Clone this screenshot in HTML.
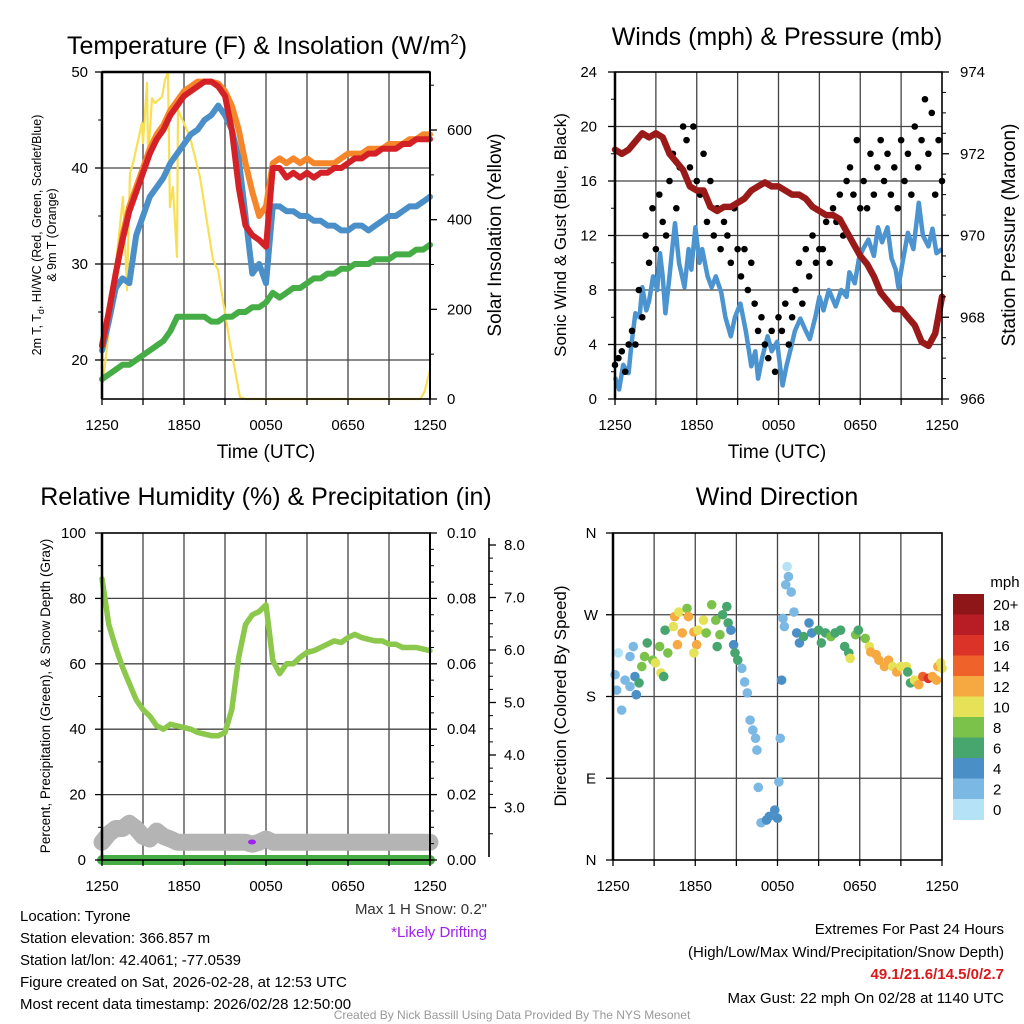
<!DOCTYPE html>
<html><head><meta charset="utf-8">
<style>
html,body{margin:0;padding:0;background:#fff;}
svg{display:block;font-family:"Liberation Sans",sans-serif;}
</style></head>
<body>
<svg id="fig" width="1024" height="1024" viewBox="0 0 1024 1024" xmlns="http://www.w3.org/2000/svg">
<rect width="1024" height="1024" fill="#fff"/>
<text x="267" y="54" font-size="25" text-anchor="middle">Temperature (F) &amp; Insolation (W/m<tspan font-size="15" dy="-10">2</tspan><tspan dy="10">)</tspan></text>
<text x="777" y="45" font-size="25" text-anchor="middle">Winds (mph) &amp; Pressure (mb)</text>
<text x="266" y="505" font-size="25" text-anchor="middle">Relative Humidity (%) &amp; Precipitation (in)</text>
<text x="777" y="505" font-size="25" text-anchor="middle">Wind Direction</text>

<text transform="translate(41,235) rotate(-90)" font-size="12.5" text-anchor="middle">2m T, T<tspan font-size="9" dy="3">d</tspan><tspan dy="-3">, HI/WC (Red, Green, Scarlet/Blue)</tspan></text>
<text transform="translate(56,235) rotate(-90)" font-size="12.5" text-anchor="middle">&amp; 9m T (Orange)</text>
<text transform="translate(501,235) rotate(-90)" font-size="19" text-anchor="middle">Solar Insolation (Yellow)</text>
<text transform="translate(566,235) rotate(-90)" font-size="17" text-anchor="middle">Sonic Wind &amp; Gust (Blue, Black)</text>
<text transform="translate(1015,235) rotate(-90)" font-size="19" text-anchor="middle">Station Pressure (Maroon)</text>
<text transform="translate(50,696) rotate(-90)" font-size="13.5" text-anchor="middle">Percent, Precipitation (Green), &amp; Snow Depth (Gray)</text>
<text transform="translate(566,696) rotate(-90)" font-size="17" text-anchor="middle">Direction (Colored By Speed)</text>

<text x="266" y="458" font-size="19" text-anchor="middle">Time (UTC)</text>
<text x="777" y="458" font-size="19" text-anchor="middle">Time (UTC)</text>

<g font-size="15">
<text x="20" y="921">Location: Tyrone</text>
<text x="20" y="943">Station elevation: 366.857 m</text>
<text x="20" y="965">Station lat/lon: 42.4061; -77.0539</text>
<text x="20" y="987">Figure created on Sat, 2026-02-28, at 12:53 UTC</text>
<text x="20" y="1009">Most recent data timestamp: 2026/02/28 12:50:00</text>
</g>
<text x="487" y="914" font-size="15" text-anchor="end" fill="#333">Max 1 H Snow: 0.2"</text>
<text x="487" y="937" font-size="15" text-anchor="end" fill="#a020f0">*Likely Drifting</text>
<g font-size="15" text-anchor="end">
<text x="1004" y="934">Extremes For Past 24 Hours</text>
<text x="1004" y="957">(High/Low/Max Wind/Precipitation/Snow Depth)</text>
<text x="1004" y="979" fill="#d7191c" font-weight="bold">49.1/21.6/14.5/0/2.7</text>
<text x="1004" y="1003">Max Gust: 22 mph On 02/28 at 1140 UTC</text>
</g>
<text x="512" y="1019" font-size="12" text-anchor="middle" fill="#999">Created By Nick Bassill Using Data Provided By The NYS Mesonet</text>
<g id="layer"></g>
</svg>
<script>
// ---------- data ----------
const xTickLabels = ["1250","1850","0050","0650","1250"];
const halfHours = [0,0.5,1,1.5,2,2.5,3,3.5,4,4.5,5,5.5,6,6.5,7,7.5,8,8.5,9,9.5,10,10.5,11,11.5,12,12.5,13,13.5,14,14.5,15,15.5,16,16.5,17,17.5,18,18.5,19,19.5,20,20.5,21,21.5,22,22.5,23,23.5,24];
const tempRed = [21.5,25,29,32.5,35.5,37.5,39.5,41.5,43,44,45.5,46.5,47.5,48,48.5,49,49,48.5,47.5,44,38,34,33,32.5,31.8,40,40,39,39.5,39,39.5,39,39.5,39.5,40,40,40.5,41,41,41.5,41.5,42,42,42,42.5,42.5,43,43,43];
const tempOrange = [21.5,25,29,33,36,38,40,42,43.5,44.5,46,47,48,48.5,49,49,49,48.8,48,46.5,44,40.5,37.5,35,36,40.5,41,40.5,41,40.5,41,40.5,40.5,40.5,40.5,41,41.5,41.5,41.5,42,42,42,42.5,42.5,42.5,43,43,43.5,43.5];
const tempBlue = [21,24,27.5,28.5,28,33,35,37,38,39,40.5,41.5,42.5,43.5,44,45,45.5,46.5,45.5,44,41,35,29,30,28,36,36,35.5,35.5,35,35,34.5,34.5,34,34,33.5,33.5,34,34,33.5,34,34.5,35,35,35.5,36,36,36.5,37];
const tempGreen = [18,18.5,19,19.5,19.5,20,20.5,21,21.5,22,23,24.5,24.5,24.5,24.5,24.5,24,24,24.5,24.5,25,25,25.5,25.5,26,27,26.5,27,27.5,27.5,28,28.5,28.5,29,29,29.5,29.5,30,30,30,30.5,30.5,30.5,31,31,31,31.5,31.5,32];
const solarTime = [0.07,0.8,1.54,1.83,2.05,2.27,2.93,3.0,3.29,3.37,3.66,3.88,4.39,4.61,4.83,4.97,5.19,5.49,5.56,6.44,7.17,8.12,8.49,9.36,10.1,10.5,23.3,23.6,24];
const solarVal = [36,236,451,243,504,526,616,571,705,533,671,660,674,712,729,428,473,317,645,584,495,310,288,125,4,0,0,16,65];
const windTime = [0,0.3,0.6,1,1.2,1.5,1.8,2,2.3,2.5,2.8,3.1,3.3,3.5,3.7,4,4.2,4.4,4.7,5.1,5.4,5.6,5.9,6.2,6.4,6.8,7.1,7.4,7.8,8.1,8.5,8.8,9.2,9.6,10,10.3,10.5,10.8,11.2,11.5,11.9,12.1,12.3,12.6,12.9,13.2,13.6,14,14.3,14.7,15,15.3,15.7,16.2,16.6,17,17.2,17.6,17.9,18.2,18.6,19,19.3,19.6,20,20.3,20.6,20.8,21.1,21.5,21.9,22.3,22.6,23,23.3,23.6,24];
const windVal = [1.6,0.7,2.5,1.9,4,6.3,6,8.2,6.5,7.2,9,8,10.7,9,6.3,9,11,12.9,10,8.2,11,9.5,12.6,10,11,9,8.2,9,7.8,6,4.6,6,7,5,2.4,3.5,1.5,3,4.6,3.5,4.2,2.5,1,2.5,3.7,5,5.9,5,4.4,6,7.5,6.5,8,6.8,8,7.5,9.3,8.5,10.3,11,11.7,10.5,12.6,11.5,12.6,10.3,9.5,8.2,10,12.2,11,14.4,12,11.2,12.5,10.7,11];
const gustTime = halfHours.flatMap(h => h < 24 ? [h, h + 0.25] : [h]);
const gustVal = [2.5,3,3.5,2,4,5,4,8,6,12,10,14,11,15,13,12,16,18,14,17,20,19,17,20,16,15,18,13,16,12,14,11,13,12,10,14,11,9,11,8,10,7,5,6,4,3,5,2,6,5,7,4,6,8,10,7,11,9,12,10,11,11,13,10,14,13,15,12,16,17,15,19,14,16,14,18,15,17,19,16,18,15,17,14,19,16,18,15,20,17,19,22,18,21,15,19,16];
const pressure = [972.1,972.0,972.1,972.3,972.5,972.4,972.5,972.4,972.0,971.8,971.6,971.2,971.1,971.1,970.7,970.6,970.7,970.7,970.8,970.9,971.1,971.2,971.3,971.2,971.2,971.1,971.0,971.0,970.9,970.7,970.6,970.5,970.5,970.4,970.1,969.8,969.5,969.3,969.0,968.6,968.4,968.2,968.2,968.0,967.8,967.4,967.3,967.6,968.5];
const rhVal = [86,72,65,59,54,49,46,44,41,40,41.5,41,40.5,40,39,38.5,38,38,39,46,62,72,75,76,78,61,57,60,60,62,63.5,64,65,66,67,66.5,68,69,68,67.5,67,67,66,66,65,65,65,64.5,64];
const snowDepth = [2.34,2.5,2.6,2.6,2.7,2.6,2.45,2.4,2.55,2.45,2.4,2.34,2.34,2.34,2.34,2.34,2.34,2.34,2.34,2.34,2.34,2.34,2.3,2.34,2.4,2.34,2.34,2.34,2.34,2.34,2.34,2.34,2.34,2.34,2.34,2.34,2.34,2.34,2.34,2.34,2.34,2.34,2.34,2.34,2.34,2.34,2.34,2.34,2.34];
const precip = halfHours.map(() => 0);
const dirTime = [0.39,0.15,0.27,0.63,0.88,1.24,1.48,1.24,1.6,1.7,1.9,2.1,2.3,2.5,2.9,3.1,3.4,3.5,3.7,3.8,4.0,4.4,4.7,4.5,4.8,5.05,5.4,5.5,5.9,6.1,5.9,6.2,6.6,6.8,7.2,7.5,7.6,7.8,8.0,8.3,8.4,8.6,8.8,8.9,9.1,9.4,9.6,9.8,10.0,10.2,10.4,10.5,10.6,10.8,11.2,11.4,11.8,12.0,12.1,12.3,12.2,12.4,12.5,12.6,12.7,12.8,13.0,13.2,13.4,13.6,13.9,14.3,14.5,15.0,15.2,15.5,15.9,16.2,16.6,16.9,17.2,17.3,17.7,17.9,18.4,18.7,18.8,19.2,19.4,19.8,20.1,20.4,20.7,21.0,21.4,21.5,21.7,22.0,22.3,22.6,23.0,23.3,23.6,23.7,24.0,23.9];
const dirDeg = [228,204,187,165,198,224,235,191,202,182,195,213,224,239,220,217,235,206,202,253,228,257,237,268,273,250,277,268,251,237,228,253,264,250,281,264,235,248,270,279,261,253,237,228,220,211,196,184,154,143,134,121,80,41,44,48,55,46,86,198,134,266,257,303,323,312,295,273,250,239,246,261,250,253,239,250,246,250,253,235,228,222,248,253,244,235,229,226,220,213,220,213,207,213,213,207,195,198,193,202,200,202,198,213,211,217];
const dirSpeed = [1,3,3,3,3,3,3,3,5,5,6,9,8,7,8,10,8,10,7,7,8,10,12,12,10,12,8,12,12,12,10,10,10,8,8,8,7,8,7,7,7,5,5,6,6,3,3,3,3,3,3,3,3,3,5,5,5,5,3,5,3,3,3,3,1,3,3,3,5,5,6,5,5,6,6,6,8,6,6,6,6,10,8,6,8,10,12,12,12,12,12,10,12,10,10,6,6,10,12,14,16,12,12,12,10,10];
const cbLabels = ["20+","18","16","14","12","10","8","6","4","2","0"];
const cbColors = ["#8e1518","#b81c24","#dc3328","#ef6229","#f6a941","#e6e257","#7bc24a","#47a56e","#4a8fc6","#7cb8e4","#b6e2f7"];

// ---------- helpers ----------
const NS = "http://www.w3.org/2000/svg";
const layer = document.getElementById("layer");
function mk(tag, attrs, name, parent, interact) {
  const el = document.createElementNS(NS, tag);
  for (const k in attrs) el.setAttribute(k, attrs[k]);
  
  
  (parent || layer).appendChild(el);
  return el;
}
function txt(x, y, s, size, anchor, name, fill) {
  const t = mk("text", {x: x, y: y, "font-size": size, "text-anchor": anchor, fill: fill || "#000"}, name);
  t.textContent = s;
  return t;
}
function linePath(ts, vs, xf, yf) {
  return ts.map((t, i) => (i ? "L" : "M") + xf(t).toFixed(1) + "," + yf(vs[i]).toFixed(1)).join("");
}
function panelFrame(P, hGridVals, yf, prefix) {
  const g = mk("g", {}, prefix + "-grid");
  for (let h = 3; h < 24; h += 3) {
    mk("line", {x1: P.xs(h), x2: P.xs(h), y1: P.y0, y2: P.y1, stroke: "#444", "stroke-width": 1.3}, prefix + "-vgrid", g);
  }
  hGridVals.forEach(v => {
    mk("line", {x1: P.x0, x2: P.x1, y1: yf(v), y2: yf(v), stroke: "#444", "stroke-width": 1.3}, prefix + "-hgrid", g);
  });
}
function frameBox(P, prefix) {
  mk("rect", {x: P.x0, y: P.y0, width: P.x1 - P.x0, height: P.y1 - P.y0, fill: "none", stroke: "#000", "stroke-width": 1.6}, prefix + "-plot-frame");
  mk("line", {x1: P.x0, x2: P.x0, y1: P.y0, y2: P.y1, stroke: "#000", "stroke-width": 2.5}, prefix + "-left-spine");
}
function xAxis(P, prefix, labelY) {
  for (let h = 0; h <= 24; h += 3) {
    mk("line", {x1: P.xs(h), x2: P.xs(h), y1: P.y1, y2: P.y1 + 6, stroke: "#000", "stroke-width": 1.3}, prefix + "-x-tick");
  }
  xTickLabels.forEach((s, i) => txt(P.xs(i * 6), labelY, s, 15, "middle", prefix + "-x-tick-label"));
}
function yTicks(x, ticks, yf, side, labelFmt, labelX, prefix, minor) {
  const dir = side === "left" ? -1 : 1;
  ticks.forEach(v => {
    mk("line", {x1: x, x2: x + dir * 7, y1: yf(v), y2: yf(v), stroke: "#000", "stroke-width": 1.3}, prefix + "-tick");
    txt(labelX, yf(v) + 5, labelFmt(v), 15, side === "left" ? "end" : "start", prefix + "-tick-label");
  });
  (minor || []).forEach(v => {
    mk("line", {x1: x, x2: x + dir * 4, y1: yf(v), y2: yf(v), stroke: "#000", "stroke-width": 1}, prefix + "-minor-tick");
  });
}

// ---------- Panel 1: temperature ----------
const P1 = {x0: 102, x1: 430, y0: 72, y1: 399};
P1.xs = h => P1.x0 + h * (P1.x1 - P1.x0) / 24;
const t1y = v => 72 + (50 - v) * 9.6;
const s1y = v => 399 - v * 0.4483;
panelFrame(P1, [20, 30, 40], t1y, "temp");
mk("path", {d: linePath(solarTime, solarVal, P1.xs, s1y), fill: "none", stroke: "#f7df56", "stroke-width": 2.2, "stroke-linejoin": "round"}, "solar-insolation-line");
mk("path", {d: linePath(halfHours, tempGreen, P1.xs, t1y), fill: "none", stroke: "#46ad46", "stroke-width": 6, "stroke-linejoin": "round", "stroke-linecap": "round"}, "dewpoint-line");
mk("path", {d: linePath(halfHours, tempBlue, P1.xs, t1y), fill: "none", stroke: "#4a8fc8", "stroke-width": 6, "stroke-linejoin": "round", "stroke-linecap": "round"}, "wind-chill-line");
mk("path", {d: linePath(halfHours, tempOrange, P1.xs, t1y), fill: "none", stroke: "#f6862a", "stroke-width": 6, "stroke-linejoin": "round", "stroke-linecap": "round"}, "temp-9m-line");
mk("path", {d: linePath(halfHours, tempRed, P1.xs, t1y), fill: "none", stroke: "#d42127", "stroke-width": 6, "stroke-linejoin": "round", "stroke-linecap": "round"}, "temp-2m-line");
frameBox(P1, "temp");
mk("line", {x1: P1.x0, x2: P1.x1, y1: P1.y0, y2: P1.y0, stroke: "#000", "stroke-width": 2.5}, "temp-top-spine");
mk("line", {x1: P1.x1, x2: P1.x1, y1: P1.y0, y2: P1.y1, stroke: "#000", "stroke-width": 2}, "temp-right-spine");
xAxis(P1, "temp", 430);
yTicks(P1.x0, [20, 30, 40, 50], t1y, "left", v => String(v), 88, "temp-y", [25, 35, 45]);
yTicks(P1.x1, [0, 200, 400, 600], s1y, "right", v => String(v), 447, "solar-y", [100, 300, 500, 700]);

// ---------- Panel 2: winds ----------
const P2 = {x0: 615, x1: 942, y0: 72, y1: 399};
P2.xs = h => P2.x0 + h * (P2.x1 - P2.x0) / 24;
const w2y = v => 399 - v * 13.625;
const p2y = v => 399 - (v - 966) * 40.875;
panelFrame(P2, [4, 8, 12, 16, 20], w2y, "wind");
mk("path", {d: linePath(windTime, windVal, P2.xs, w2y), fill: "none", stroke: "#4b94d0", "stroke-width": 4.5, "stroke-linejoin": "round"}, "sonic-wind-line");
const gustG = mk("g", {}, "gust-points");
gustTime.forEach((t, i) => {
  mk("circle", {cx: P2.xs(t), cy: w2y(gustVal[i]), r: 3.3, fill: "#000"}, "gust-point", gustG);
});
mk("path", {d: linePath(halfHours, pressure, P2.xs, p2y), fill: "none", stroke: "#9a1a1a", "stroke-width": 6.5, "stroke-linejoin": "round", "stroke-linecap": "round"}, "pressure-line");
frameBox(P2, "wind");
xAxis(P2, "wind", 430);
yTicks(P2.x0, [0, 4, 8, 12, 16, 20, 24], w2y, "left", v => String(v), 597, "wind-y", [2, 6, 10, 14, 18, 22]);
yTicks(P2.x1, [966, 968, 970, 972, 974], p2y, "right", v => String(v), 960, "pressure-y", [966.5, 967, 967.5, 968.5, 969, 969.5, 970.5, 971, 971.5, 972.5, 973, 973.5]);

// ---------- Panel 3: humidity ----------
const P3 = {x0: 102, x1: 430, y0: 533, y1: 860};
P3.xs = h => P3.x0 + h * (P3.x1 - P3.x0) / 24;
const r3y = v => 860 - v * 3.27;
const sn3y = v => 545 + (8 - v) * 52.5;
const pr3y = v => 860 - v * 3270;
panelFrame(P3, [20, 40, 60, 80], r3y, "rh");
mk("path", {d: linePath(halfHours, rhVal, P3.xs, r3y), fill: "none", stroke: "#8cc84b", "stroke-width": 5.5, "stroke-linejoin": "round", "stroke-linecap": "round"}, "relative-humidity-line");
mk("path", {d: linePath(halfHours, snowDepth, P3.xs, sn3y), fill: "none", stroke: "#b4b4b4", "stroke-width": 17, "stroke-linejoin": "round", "stroke-linecap": "round"}, "snow-depth-line");
mk("path", {d: linePath(halfHours, precip, P3.xs, pr3y), fill: "none", stroke: "#46ad46", "stroke-width": 10, "stroke-linecap": "round"}, "precipitation-line");
mk("ellipse", {cx: 252, cy: 842, rx: 4, ry: 2.5, fill: "#a020f0"}, "drifting-marker");
frameBox(P3, "rh");
mk("line", {x1: P3.x1, x2: P3.x1, y1: P3.y0, y2: P3.y1, stroke: "#000", "stroke-width": 2}, "rh-right-spine");
xAxis(P3, "rh", 891);
yTicks(P3.x0, [0, 20, 40, 60, 80, 100], r3y, "left", v => String(v), 86, "rh-y", [10, 30, 50, 70, 90]);
yTicks(P3.x1, [0, 0.02, 0.04, 0.06, 0.08, 0.1], pr3y, "right", v => v.toFixed(2), 447, "precip-y", [0.005,0.01,0.015,0.025,0.03,0.035,0.045,0.05,0.055,0.065,0.07,0.075,0.085,0.09,0.095]);
mk("line", {x1: 489, x2: 489, y1: 538, y2: 857, stroke: "#000", "stroke-width": 1.6}, "snow-axis-line");
yTicks(489, [3, 4, 5, 6, 7, 8], sn3y, "right", v => v.toFixed(1), 504, "snow-y", [2.5,3.25,3.5,3.75,4.25,4.5,4.75,5.25,5.5,5.75,6.25,6.5,6.75,7.25,7.5,7.75]);

// ---------- Panel 4: wind direction ----------
const P4 = {x0: 613, x1: 942, y0: 533, y1: 860};
P4.xs = h => P4.x0 + h * (P4.x1 - P4.x0) / 24;
const d4y = d => 860 - d * 327 / 360;
panelFrame(P4, [90, 180, 270], d4y, "dir");
const dirG = mk("g", {}, "direction-points");
function speedColor(s) {
  const idx = Math.min(10, Math.floor(s / 2));
  return cbColors[10 - idx];
}
dirTime.forEach((t, i) => {
  mk("circle", {cx: P4.xs(t), cy: d4y(dirDeg[i]), r: 4.8, fill: speedColor(dirSpeed[i])}, "direction-point", dirG);
});
frameBox(P4, "dir");
xAxis(P4, "dir", 891);
["N", "E", "S", "W", "N"].forEach((s, i) => {
  mk("line", {x1: P4.x0, x2: P4.x0 - 7, y1: d4y(i * 90), y2: d4y(i * 90), stroke: "#000", "stroke-width": 1.3}, "dir-y-tick");
  txt(591, d4y(i * 90) + 5, s, 15, "middle", "dir-y-tick-label");
});
// colorbar
const cb = mk("g", {}, "speed-colorbar");
txt(1005, 587, "mph", 15, "middle", "colorbar-title");
cbColors.forEach((c, i) => {
  mk("rect", {x: 953, y: 594 + i * 20.5, width: 31, height: 21, fill: c}, "colorbar-swatch", cb);
  txt(993, 610 + i * 20.5, cbLabels[i], 15, "start", "colorbar-label");
});
</script>
</body></html>
